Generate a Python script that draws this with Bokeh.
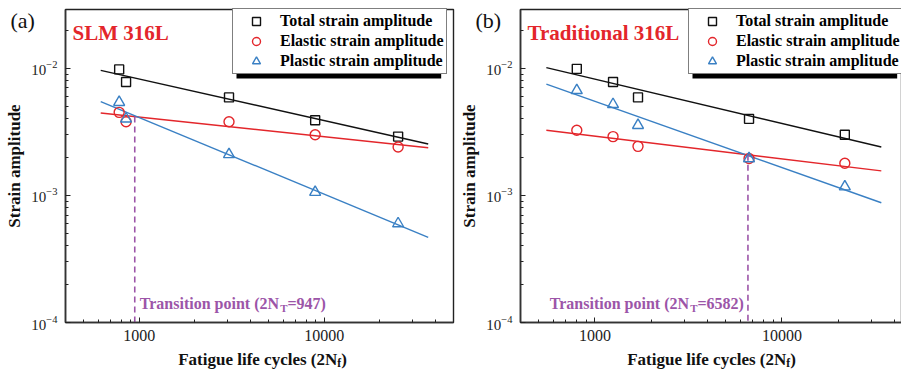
import numpy as np
from bokeh.plotting import figure
from bokeh.layouts import row
from bokeh.models import (FixedTicker, PrintfTickFormatter, LogTickFormatter, Label,
                          Legend, LegendItem, Range1d, BoxAnnotation, LogAxis)
from bokeh.embed import file_html
from bokeh.resources import INLINE

# ---- SLM 316L ----
slm_cycles = [780, 850, 3060, 8940, 25100]
slm_total = [0.0098, 0.0078, 0.0059, 0.0039, 0.0029]
slm_elastic = [0.0045, 0.0038, 0.0038, 0.0030, 0.0024]
slm_plastic = [0.0054, 0.0040, 0.0021, 0.00106, 0.00060]
slm_transition = 947
slm_fit_span = [620, 36500]

# ---- Traditional 316L ----
trad_cycles = [800, 1250, 1700, 6670, 21700]
trad_total = [0.0099, 0.0078, 0.0059, 0.0040, 0.0030]
trad_elastic = [0.00325, 0.0029, 0.00243, 0.00195, 0.00179]
trad_plastic = [0.0067, 0.0052, 0.00356, 0.00195, 0.00117]
trad_transition = 6582
trad_fit_span = [550, 34000]

# axis limits and ticks
x_start = 400
y_limits = [1e-4, 0.029]
x_major = [1000, 10000]
x_minor = [400, 500, 600, 700, 800, 900, 2000, 3000, 4000, 5000, 6000, 7000,
           8000, 9000, 20000, 30000, 40000, 50000]
y_major = [1e-4, 1e-3, 1e-2]
y_minor = [m * d for d in (1e-4, 1e-3) for m in range(2, 10)] + [2e-2]

SERIF = "Liberation Serif"
BLACK = "#111111"
RED = "#e3262b"
BLUE = "#3a80c4"
PURPLE = "#9c55a8"

H = 370                      # canvas height
AX_TOP, AX_BOTTOM = 9, 322   # canvas rows of the axes box

# Times/Liberation Serif Bold advance widths (1/1000 em) for laying out split labels
BOLD_W = {"T": 667, "r": 444, "a": 500, "n": 556, "s": 389, "i": 278, "t": 333,
          "o": 500, "p": 556, "(": 333, ")": 333, "N": 722, "=": 570, "F": 611,
          "g": 500, "u": 556, "e": 444, "l": 278, "f": 333, "c": 444, "y": 500,
          " ": 250}


def text_width(s, size):
    return sum(BOLD_W.get(ch, 500) for ch in s) * size / 1000.0


def split_label(p, parts, x, y, size, color, x_units="screen", align="left", pad=0.0):
    """Bold text with subscript pieces; y is the baseline (canvas px from bottom)."""
    sub_size = size * 0.68
    pieces = [(t, sub, sub_size if sub else size) for t, sub in parts]
    widths = [text_width(t, fs) for t, _, fs in pieces]
    total = sum(widths)
    off = {"left": pad, "right": -total - pad, "center": -total / 2.0 + pad}[align]
    for (t, sub, fs), w in zip(pieces, widths):
        p.add_layout(Label(x=x, y=(y - 4 if sub else y), x_units=x_units, y_units="screen",
                           x_offset=off, text=t, text_font=SERIF, text_font_style="bold",
                           text_font_size=f"{fs:.1f}px", text_color=color,
                           text_baseline="alphabetic", text_align="left"))
        off += w


def make_panel(tag, title, cycles, total, elastic, plastic, transition, fit_span,
               x_end, width, ax_left, ax_right, legend_left, xtitle_center, tag_x):
    # the frame spans the whole canvas; the axes box sits inside it
    lx0, lx1 = np.log10(x_start), np.log10(x_end)
    ly0, ly1 = np.log10(y_limits[0]), np.log10(y_limits[1])
    ppx = (ax_right - ax_left) / (lx1 - lx0)
    ppy = (AX_BOTTOM - AX_TOP) / (ly1 - ly0)
    xr = Range1d(10 ** (lx0 - ax_left / ppx), 10 ** (lx1 + (width - ax_right) / ppx))
    yr = Range1d(10 ** (ly0 - (H - AX_BOTTOM) / ppy), 10 ** (ly1 + AX_TOP / ppy))

    p = figure(width=width, height=H, x_axis_type="log", y_axis_type="log",
               x_axis_location=None, y_axis_location=None, x_range=xr, y_range=yr,
               output_backend="svg", toolbar_location=None, min_border=0,
               min_border_left=0, min_border_right=0, min_border_top=0, min_border_bottom=0)
    p.grid.visible = False
    p.outline_line_color = None
    p.background_fill_color = "white"
    p.border_fill_color = "white"

    xaxis = LogAxis(fixed_location=y_limits[0], bounds=(x_start, x_end),
                    ticker=FixedTicker(ticks=x_major,
                                       minor_ticks=[t for t in x_minor if t <= x_end]),
                    formatter=PrintfTickFormatter(format="%d"))
    yaxis = LogAxis(fixed_location=x_start, bounds=tuple(y_limits),
                    ticker=FixedTicker(ticks=y_major, minor_ticks=y_minor),
                    formatter=LogTickFormatter())
    for ax in (xaxis, yaxis):
        ax.axis_line_color = "#333333"
        ax.axis_line_width = 1.6
        ax.major_tick_in = 5
        ax.major_tick_out = 0
        ax.minor_tick_in = 3
        ax.minor_tick_out = 0
        ax.major_tick_line_color = "#222222"
        ax.minor_tick_line_color = "#222222"
        ax.major_label_text_font = SERIF
        ax.major_label_text_color = "#222222"
    xaxis.major_label_text_font_size = "16px"
    xaxis.major_label_standoff = 7
    yaxis.major_label_text_font_size = "15px"
    yaxis.major_label_standoff = 8
    yaxis.axis_label = "Strain amplitude"
    yaxis.axis_label_text_font = SERIF
    yaxis.axis_label_text_font_style = "bold"
    yaxis.axis_label_text_font_size = "17px"
    yaxis.axis_label_text_color = "#111111"
    yaxis.axis_label_standoff = 4
    p.add_layout(xaxis, "below")
    p.add_layout(yaxis, "left")

    # axes box
    p.quad(left=[x_start], right=[x_end], bottom=[y_limits[0]], top=[y_limits[1]],
           fill_color=None, line_color="#222222", line_width=1.4)

    # power-law fits (straight lines in log-log space)
    lc = np.log10(cycles)
    span = np.array(fit_span, dtype=float)
    fits = {}
    for name, vals, color in (("total", total, BLACK), ("elastic", elastic, RED),
                              ("plastic", plastic, BLUE)):
        k, b = np.polyfit(lc, np.log10(vals), 1)
        fits[name] = (k, b)
        p.line(span, 10 ** (k * np.log10(span) + b), line_color=color, line_width=1.4)

    # transition life: dashed marker from the elastic fit down to the x axis
    k, b = fits["elastic"]
    y_t = 10 ** (k * np.log10(transition) + b)
    p.line([transition, transition], [y_t, y_limits[0]], line_color=PURPLE,
           line_width=1.6, line_dash="6 4")

    r_tot = p.scatter(cycles, total, marker="square", size=9, fill_color=None,
                      line_color=BLACK, line_width=1.4)
    r_ela = p.scatter(cycles, elastic, marker="circle", size=10, fill_color=None,
                      line_color=RED, line_width=1.4)
    r_pla = p.scatter(cycles, plastic, marker="triangle", size=11, fill_color=None,
                      line_color=BLUE, line_width=1.4)

    # legend with a solid drop shadow
    labels = ["Total strain amplitude", "Elastic strain amplitude", "Plastic strain amplitude"]
    pad, glyph_w, standoff, row_h = 2, 42, 3, 20
    leg_w = 2 * pad + glyph_w + standoff + text_width("Elastic strain amplitude", 16)
    leg_h = 2 * pad + 3 * row_h
    leg_bottom = H - (AX_TOP + 1 + leg_h)
    p.add_layout(BoxAnnotation(left=legend_left + 4, right=legend_left + leg_w + 5,
                               bottom=leg_bottom - 4, top=leg_bottom + leg_h - 4,
                               left_units="screen", right_units="screen",
                               top_units="screen", bottom_units="screen",
                               fill_color="black", fill_alpha=1.0, line_color=None))
    legend = Legend(items=[LegendItem(label=t, renderers=[r]) for t, r in
                           zip(labels, (r_tot, r_ela, r_pla))],
                    location=(legend_left, leg_bottom), orientation="vertical",
                    padding=pad, spacing=0, label_height=row_h, glyph_height=row_h,
                    glyph_width=glyph_w, label_standoff=standoff, label_text_font=SERIF,
                    label_text_font_style="bold", label_text_font_size="16px",
                    label_text_color="black", border_line_color="black",
                    border_line_width=1.2, margin=0, background_fill_color="white",
                    background_fill_alpha=1.0)
    p.add_layout(legend, "center")

    # panel tag and material title
    p.add_layout(Label(x=tag_x, y=H - 20, x_units="screen", y_units="screen", text=tag,
                       text_font=SERIF, text_font_size="22px", text_color="#111111",
                       text_baseline="middle"))
    p.add_layout(Label(x=ax_left + 7, y=H - 32, x_units="screen", y_units="screen",
                       text=title, text_font=SERIF, text_font_style="bold",
                       text_font_size="21px", text_color=RED, text_baseline="middle"))

    # transition annotation
    parts = [("Transition point (2N", False), ("T", True), (f"={transition})", False)]
    if tag == "(a)":
        split_label(p, parts, transition, H - 303, 16, PURPLE, x_units="data",
                    align="left", pad=5)
    else:
        split_label(p, parts, transition, H - 303, 16, PURPLE, x_units="data",
                    align="right", pad=4)

    # x-axis title with subscript
    split_label(p, [("Fatigue life cycles (2N", False), ("f", True), (")", False)],
                xtitle_center, H - 359, 17, "#111111", x_units="screen", align="center")
    return p


pa = make_panel("(a)", "SLM 316L", slm_cycles, slm_total, slm_elastic, slm_plastic,
                slm_transition, slm_fit_span, 50000, 460, 65, 453, 232, 262, 10)
pb = make_panel("(b)", "Traditional 316L", trad_cycles, trad_total, trad_elastic,
                trad_plastic, trad_transition, trad_fit_span, 43600, 441, 60, 441, 228,
                251, 15)

layout = row(pa, pb)
open("out.html", "w").write(file_html(layout, INLINE))
